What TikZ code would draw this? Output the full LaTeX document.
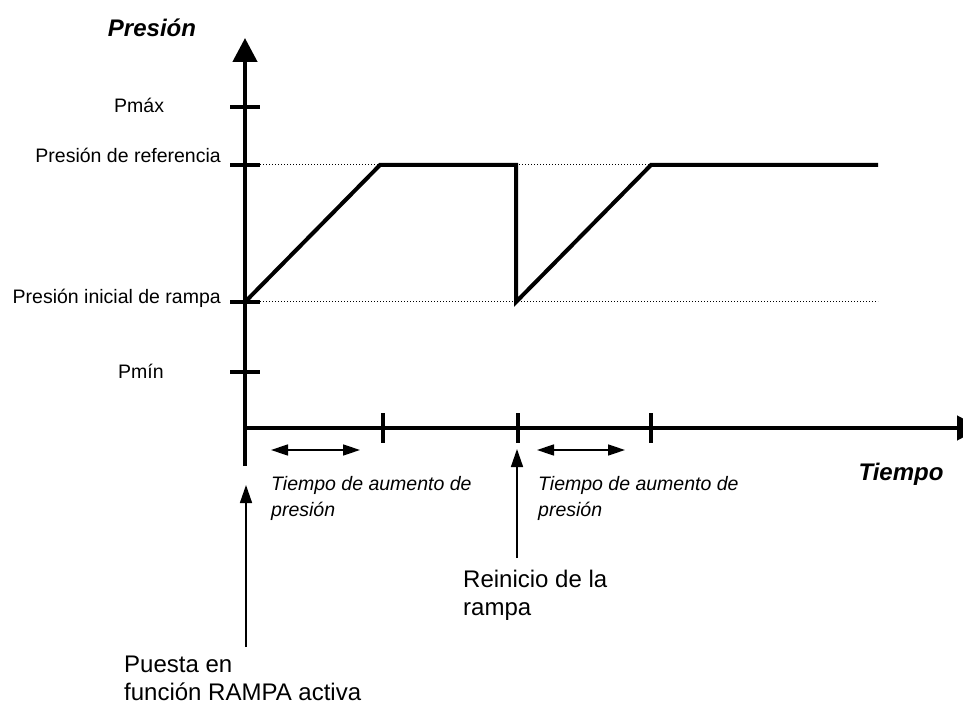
\documentclass[tikz,border=0pt]{standalone}
\usepackage{fontspec}
\setmainfont{Liberation Sans}
\usetikzlibrary{arrows.meta}
\begin{document}
\begin{tikzpicture}[x=1pt,y=-1pt,
  axis/.style={line width=4.5pt},
  bigtip/.style={-{Triangle[length=24pt,width=24pt]}},
  tickmark/.style={line width=4pt},
  curve/.style={line width=4pt, line join=miter},
  guide/.style={line width=1pt, dotted},
  span/.style={line width=1.5pt, {Triangle[length=17pt,width=11pt]}-{Triangle[length=17pt,width=11pt]}},
  pointer/.style={line width=1.5pt, -{Triangle[length=18pt,width=12pt]}},
  lab/.style={inner sep=0pt, font=\fontsize{19.5}{26}\selectfont},
  note/.style={inner sep=0pt, align=left, font=\fontsize{19.5}{26}\selectfont\itshape},
  big/.style={inner sep=0pt, align=left, font=\fontsize{24}{28}\selectfont},
  title/.style={inner sep=0pt, font=\fontsize{24}{28}\selectfont\bfseries\itshape}
]
\useasboundingbox (0,0) rectangle (963,708);
\clip (0,0) rectangle (963,708);

% axes
\coordinate (O) at (245,428);
\coordinate (Ytop) at (245,38);
\coordinate (Ybot) at (245,466);
\coordinate (Xend) at (981,428);
\draw[axis,bigtip] (Ybot) -- (Ytop);
\draw[axis,bigtip] (O) -- (Xend);

% y ticks
\foreach \n/\yy in {max/107, ref/165, ini/302, min/372}{
  \coordinate (yl\n) at (230,\yy);
  \coordinate (yr\n) at (260,\yy);
  \draw[tickmark] (yl\n) -- (yr\n);
}
% x ticks
\foreach \n/\xx in {a/383, b/518, c/651}{
  \coordinate (xt\n) at (\xx,413);
  \coordinate (xb\n) at (\xx,443);
  \draw[tickmark] (xt\n) -- (xb\n);
}

% guides
\coordinate (g1) at (260,165);
\coordinate (g2) at (260,302);
\coordinate (g3) at (878,302);
\coordinate (r0) at (245,302);
\coordinate (r1) at (380,165);
\coordinate (r2) at (516,165);
\coordinate (r3) at (516,302);
\coordinate (r4) at (651,165);
\coordinate (r5) at (878,165);
\draw[guide] (g1) -- (r1);
\draw[guide] (r2) -- (r4);
\draw[guide] (g2) -- (g3);

% pressure curve
\draw[curve] (r0) -- (r1) -- (r2) -- (r3) -- (r4) -- (r5);

% spans
\coordinate (s1a) at (271,450);
\coordinate (s1b) at (360,450);
\coordinate (s2a) at (537,450);
\coordinate (s2b) at (625,450);
\draw[span] (s1a) -- (s1b);
\draw[span] (s2a) -- (s2b);

% pointers
\coordinate (p1a) at (246,647);
\coordinate (p1b) at (246,485);
\coordinate (p2a) at (517,558);
\coordinate (p2b) at (517,449);
\draw[pointer] (p1a) -- (p1b);
\draw[pointer] (p2a) -- (p2b);

% labels
\node[title, anchor=base] (tP) at (152,37) {Presión};
\node[title, anchor=base] (tT) at (901,480) {Tiempo};
\node[lab, anchor=base west] (lmax) at (114,113) {Pmáx};
\node[lab, anchor=base east] (lref) at (221,163) {Presión de referencia};
\node[lab, anchor=base east] (lini) at (221,304) {Presión inicial de rampa};
\node[lab, anchor=base west] (lmin) at (118,378) {Pmín};

\node[note, anchor=north west] (n1) at (271,476) {Tiempo de aumento de\\presión};
\node[note, anchor=north west] (n2) at (538,476) {Tiempo de aumento de\\presión};

\node[big, anchor=north west] (reini) at (463,570) {Reinicio de la\\rampa};
\node[big, anchor=north west] (puesta) at (124,656) {Puesta en\\función RAMPA activa};
\end{tikzpicture}
\end{document}
